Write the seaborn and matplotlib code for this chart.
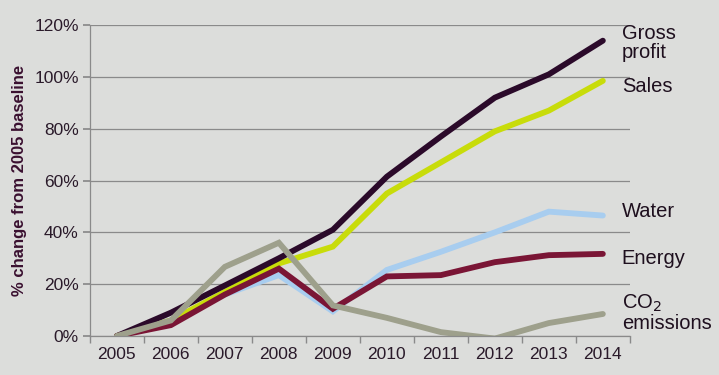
import numpy as np
import pandas as pd
import matplotlib
matplotlib.use("Agg")
import matplotlib.pyplot as plt
import seaborn as sns
from matplotlib.ticker import FixedLocator, PercentFormatter

years = ["2005", "2006", "2007", "2008", "2009", "2010", "2011", "2012", "2013", "2014"]
gross_profit = [0, 9, 19.5, 30, 41, 61.5, 77, 92, 101, 114]
sales = [0, 6, 17, 28, 34.5, 55, 67, 79, 87, 98.5]
water = [0, 6, 16, 23.5, 9.5, 25.5, 32.5, 40, 48, 46.5]
energy = [0, 4.2, 16, 26, 10.5, 23, 23.5, 28.5, 31.2, 31.7]
co2 = [0, 6, 26.7, 36, 11.8, 7, 1.5, -1, 5, 8.5]

series = {"Gross profit": gross_profit, "Sales": sales, "Water": water,
          "Energy": energy, "CO2": co2}
colors = {"Gross profit": "#2b0a2a", "Sales": "#c8dc0a", "Water": "#a8cdef",
          "Energy": "#7a1535", "CO2": "#9ea08c"}
# drawing order: later ones on top
order = ["Water", "Sales", "Gross profit", "Energy", "CO2"]

rows = []
for name in order:
    for i, v in enumerate(series[name]):
        rows.append({"series": name, "x": i, "value": v})
df = pd.DataFrame(rows)

BG = "#dcdddb"
sns.set_theme(style="white")
plt.rcParams["font.family"] = ["Liberation Sans", "DejaVu Sans"]

fig = plt.figure(figsize=(7.19, 3.75), dpi=100, facecolor=BG)
ax = fig.add_axes([0.125, 0.104, 0.751, 0.829])
ax.set_facecolor(BG)

sns.lineplot(data=df, x="x", y="value", hue="series", hue_order=order,
             palette=colors, linewidth=4.2, ax=ax, legend=False, sort=False,
             solid_capstyle="round", solid_joinstyle="miter")

ax.set_xlim(-0.5, 9.5)
ax.set_ylim(0, 120)
ax.set_yticks(np.arange(0, 121, 20))
ax.yaxis.set_major_formatter(PercentFormatter(decimals=0))
ax.yaxis.grid(True, color="#8a8a8a", linewidth=0.9)
ax.set_axisbelow(True)

ax.set_xticks(range(len(years)))
ax.set_xticklabels(years)
ax.xaxis.set_minor_locator(FixedLocator(np.arange(-0.5, 10, 1)))
ax.tick_params(axis="x", which="major", length=0, pad=8, labelsize=12.5, labelcolor="#2a1a2a")
ax.tick_params(axis="x", which="minor", length=5, color="#8a8a8a", direction="out", bottom=True)
ax.tick_params(axis="y", which="major", length=5, color="#8a8a8a", direction="out", left=True,
               labelsize=12.5, labelcolor="#2a1a2a", pad=3)

for side in ["top", "right"]:
    ax.spines[side].set_visible(False)
for side in ["left", "bottom"]:
    ax.spines[side].set_color("#8a8a8a")
    ax.spines[side].set_linewidth(0.9)

ax.set_xlabel("")
ax.set_ylabel("% change from 2005 baseline", fontsize=12, fontweight="bold",
              color="#3a1030", labelpad=5)

labels = [("Gross\nprofit", 113), ("Sales", 96.5), ("Water", 48),
          ("Energy", 30), ("CO$_2$\nemissions", 9)]
for txt, yv in labels:
    ax.annotate(txt, xy=(9.35, yv), xycoords="data", annotation_clip=False,
                fontsize=14.5, color="#1e0f1e", va="center", ha="left", linespacing=1.0)

fig.savefig("out.png", dpi=100, facecolor=BG)
